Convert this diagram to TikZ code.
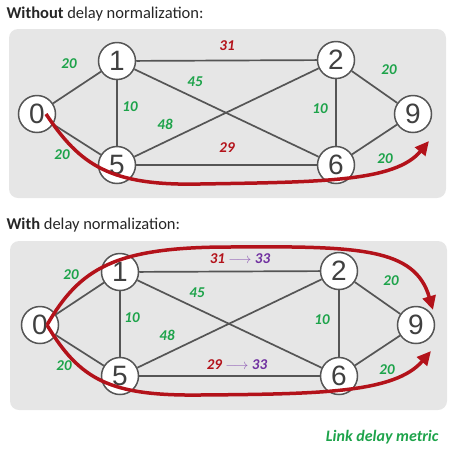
\documentclass[tikz,border=0pt]{standalone}
\usepackage{fontspec}
\setmainfont{Carlito}
\newfontfamily\digitfont{Liberation Sans}
\usetikzlibrary{arrows.meta}
\definecolor{wgreen}{HTML}{1DA34A}
\definecolor{dred}{HTML}{B3121A}
\definecolor{dpurple}{HTML}{7030A0}
\definecolor{panelgray}{HTML}{E6E6E6}
\definecolor{edgegray}{HTML}{555555}

\begin{document}
\begin{tikzpicture}[x=1pt,y=-1pt,
	rtr/.style={
		circle,
		draw=edgegray,
		line width=1.5pt,
		fill=white,
		minimum size=37pt,
		inner sep=0pt,
		text=black!75,
		font=\digitfont\fontsize{28}{28}\selectfont,
	},
	link/.style={draw=edgegray,line width=1.7pt},
	w/.style={font=\fontsize{15}{15}\selectfont\bfseries\itshape,text=wgreen},
	wr/.style={w,text=dred},
	panel/.style={fill=panelgray,rounded corners=9pt},
	ttl/.style={anchor=west,font=\fontsize{16.5}{16.5}\selectfont,text=black!85},
	route/.style={draw=dred,line width=3.5pt,-{Triangle[length=14pt,width=13pt]}},
]
	\useasboundingbox (0,0) rectangle (453,448);
	% panels and titles
	\fill[panel] (9,29) rectangle (446,198);
	\fill[panel] (10,241) rectangle (447,410);
	\node[ttl] (t1) at (3,14) {\textbf{Without} delay normalization:};
	\node[ttl] (t2) at (3,225) {\textbf{With} delay normalization:};
	% routers
	\foreach \n/\x/\y in {0/37/114,1/117/61,2/336/60,9/413/114,5/117/165,6/336/165}{
		\node[rtr] (a\n) at (\x,\y) {\n};
		\node[rtr] (b\n) at (\x+3,\y+211) {\n};
	}
	% links
	\foreach \p in {a,b}{
		\foreach \u/\v in {0/1,0/5,1/2,1/5,1/6,2/5,2/6,2/9,5/6,6/9}{
			\draw[link] (\p\u) -- (\p\v);
		}
	}
	% link delays
	\foreach \n/\x/\y/\t in {1/69/64/20,2/62/155/20,3/195/82/45,4/130/107/10,
		5/165/124/48,6/320/109/10,7/389/70/20,8/385/159/20}{
		\node[w] (la\n) at (\x,\y) {\t};
		\node[w] (lb\n) at (\x+2,\y+211) {\t};
	}
	\node[wr] (la9) at (227,46) {31};
	\node[wr] (la10) at (227,148) {29};
	\node[wr] (lb9) at (240,259) {31 {\color{dpurple!75}$\longrightarrow$} \textcolor{dpurple}{33}};
	\node[wr] (lb10) at (237,365) {29 {\color{dpurple!75}$\longrightarrow$} \textcolor{dpurple}{33}};
	% paths
	\coordinate (sa) at ([xshift=9pt]a0.center);
	\coordinate (sb) at ([xshift=7pt]b0.center);
	\draw[route] (sa) .. controls (80,165) and (110,186) .. (200,184)
		.. controls (320,182) and (395,182) .. (429,141);
	\draw[route] (sb) .. controls (80,268) and (115,247) .. (230,247)
		.. controls (360,246) and (415,248) .. (433,310);
	\draw[route] (sb) .. controls (80,380) and (110,396) .. (200,395)
		.. controls (320,394) and (395,393) .. (431,351);
	\node[w,font=\fontsize{16}{16}\selectfont\bfseries\itshape,anchor=east] (key) at (442,437) {Link delay metric};
\end{tikzpicture}
\end{document}
